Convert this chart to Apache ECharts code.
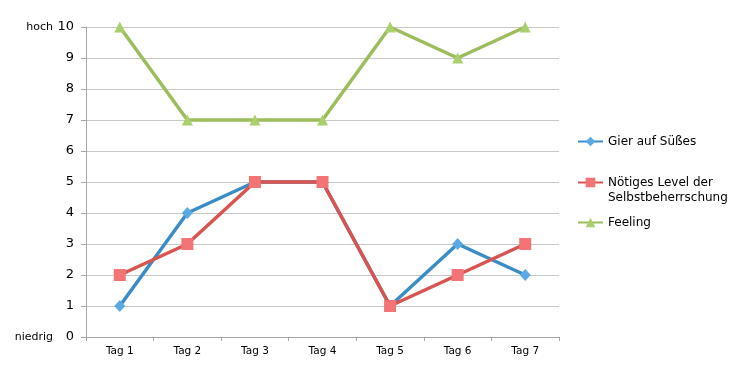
<!DOCTYPE html>
<html><head><meta charset="utf-8">
<script src="https://cdn.jsdelivr.net/npm/echarts@6/dist/echarts.min.js"></script>
<style>html,body{margin:0;padding:0;background:#fff}#c{width:750px;height:380px}</style>
</head><body><div id="c"></div>
<script>
var categories = ['Tag 1','Tag 2','Tag 3','Tag 4','Tag 5','Tag 6','Tag 7'];
var gier = [1,4,5,5,1,3,2];
var level = [2,3,5,5,1,2,3];
var feeling = [10,7,7,7,10,9,10];
var seriesNames = ['Gier auf Süßes','Nötiges Level der Selbstbeherrschung','Feeling'];
var yTop = 'hoch', yBottom = 'niedrig';

var font = 'DejaVu Sans';
var chart = echarts.init(document.getElementById('c'));
function mk(name, data, color, mcolor, symbol, size) {
  return {
    name: name, type: 'line', data: data, symbol: symbol, symbolSize: size,
    lineStyle: {width: 3.5, color: color},
    itemStyle: {color: mcolor, borderWidth: 0},
    emphasis: {disabled: true}, animation: false, z: 3
  };
}
function legend(name, top) {
  return {
    data: [name], orient: 'vertical', left: 577, top: top, padding: 0,
    itemWidth: 25, itemHeight: 12, itemGap: 0,
    formatter: function (n) { return n === seriesNames[1] ? '\u00a0\nNötiges Level der\nSelbstbeherrschung' : n; },
    textStyle: {fontFamily: font, fontSize: 12, color: '#000', lineHeight: 15}
  };
}
chart.setOption({
  animation: false,
  grid: {left: 86, right: 191, top: 27, bottom: 43},
  legend: [legend(seriesNames[0], 134), legend(seriesNames[1], 160), legend(seriesNames[2], 215)],
  xAxis: {
    type: 'category', data: categories, boundaryGap: true,
    axisLine: {lineStyle: {color: '#a6a6a6', width: 1}},
    axisTick: {show: true, length: 4, lineStyle: {color: '#a6a6a6'}},
    axisLabel: {fontFamily: font, fontSize: 10.5, color: '#000', margin: 9}
  },
  yAxis: {
    type: 'value', min: 0, max: 10, interval: 1,
    axisLine: {show: true, lineStyle: {color: '#a6a6a6', width: 1}},
    axisTick: {show: true, length: 5, lineStyle: {color: '#a6a6a6'}},
    splitLine: {lineStyle: {color: '#c8c8c8', width: 1}},
    axisLabel: {
      margin: 12, color: '#000',
      formatter: function (v) {
        if (v === 10) return '{s|' + yTop + '}{n|' + v + '}';
        if (v === 0) return '{s|' + yBottom + '}{n|' + v + '}';
        return '{n|' + v + '}';
      },
      rich: {
        s: {fontFamily: font, fontSize: 11, color: '#000', align: 'right'},
        n: {fontFamily: font, fontSize: 13, color: '#000', width: 21, align: 'right'}
      }
    }
  },
  series: [
    mk(seriesNames[0], gier, '#3a8cc6', '#5aaae6', 'diamond', [11, 12]),
    mk(seriesNames[1], level, '#d9534f', '#f27474', 'rect', 12),
    mk(seriesNames[2], feeling, '#9bbd5c', '#a9d06c', 'triangle', 11)
  ]
});
</script></body></html>
